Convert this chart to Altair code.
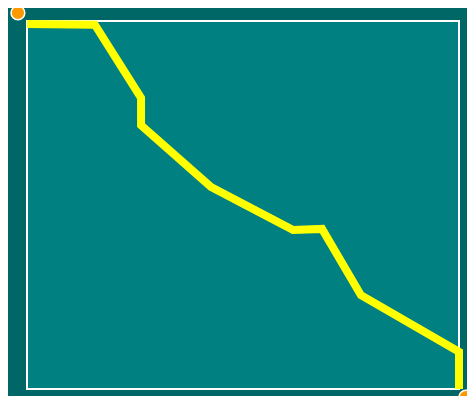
import altair as alt
import pandas as pd

line_x = [0, 15.7, 26.4, 26.4, 42.6, 61.6, 68.3, 77.3, 100, 100]
line_y = [99.2, 99.0, 79.1, 71.7, 54.9, 43.2, 43.5, 25.5, 10.1, 0]
marker_x = [-2.1, 101.6]
marker_y = [102.2, -2.2]

line_df = pd.DataFrame({"x": line_x, "y": line_y, "i": list(range(len(line_x)))})
marker_df = pd.DataFrame({"x": marker_x, "y": marker_y})

xs = alt.Scale(domain=[0, 100], nice=False, zero=False)
ys = alt.Scale(domain=[0, 100], nice=False, zero=False)

line = alt.Chart(line_df).mark_line(color="#ffff00", strokeWidth=8).encode(
    x=alt.X("x:Q", scale=xs, axis=None),
    y=alt.Y("y:Q", scale=ys, axis=None),
    order=alt.Order("i:Q"),
)

points = alt.Chart(marker_df).mark_point(
    filled=True, shape="circle", size=190, fill="#ff9900", stroke="white",
    strokeWidth=1.5, opacity=1,
).encode(
    x=alt.X("x:Q", scale=xs, axis=None),
    y=alt.Y("y:Q", scale=ys, axis=None),
)

chart = (line + points).properties(
    width=432,
    height=368,
    autosize=alt.AutoSizeParams(type="none"),
    padding={"left": 19, "top": 13, "right": 8, "bottom": 7},
    background="#006666",
).configure_view(
    fill="#008080", stroke="white", strokeWidth=2
)

chart.save("out.html", embed_options={"renderer": "svg", "actions": False})
